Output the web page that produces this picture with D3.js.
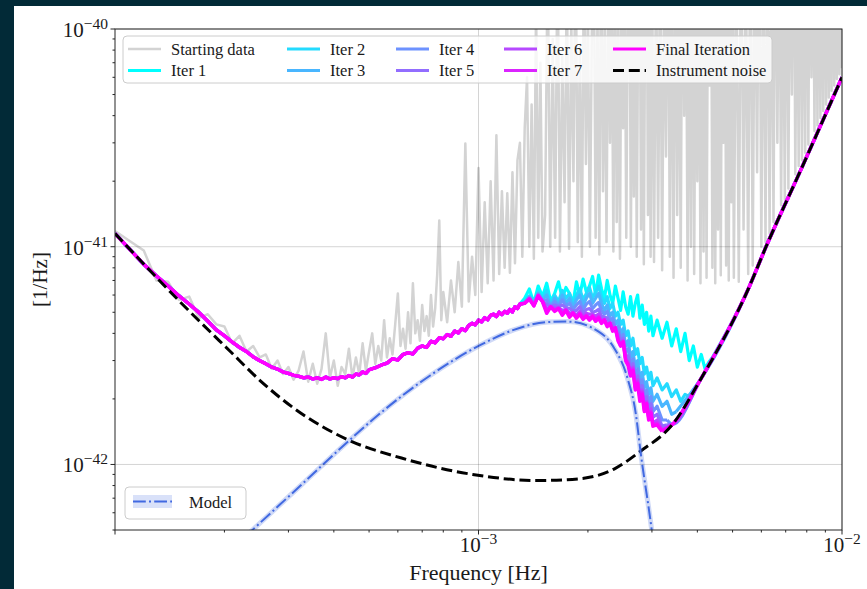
<!DOCTYPE html>
<html>
<head>
<meta charset="utf-8">
<title>PSD iterations</title>
<script src="https://d3js.org/d3.v7.min.js"></script>
<style>
body {
  margin: 0;
  background-color: #022a37;
}
svg {
  display: block;
}
text {
  font-family: "Liberation Serif", "DejaVu Serif", serif;
  fill: #1a1a1a;
}
</style>
</head>
<body>
<svg id="chart" width="867" height="589"></svg>
<script>
// frequencies in mHz, PSD values in units of 1e-42 [1/Hz]

// starting data (grey, noisy periodogram)
const dataFreq = [
  0.10, 0.11, 0.12, 0.13, 0.14, 0.15, 0.16, 0.17, 0.18, 0.19,
  0.20, 0.21, 0.22, 0.23, 0.24, 0.25, 0.26, 0.27, 0.28, 0.29,
  0.30, 0.31, 0.32, 0.33, 0.34, 0.35, 0.36, 0.37, 0.38, 0.39,
  0.40, 0.41, 0.42, 0.43, 0.44, 0.45, 0.46, 0.47, 0.48, 0.49, 0.50,
  0.51, 0.52, 0.53, 0.54, 0.55, 0.56, 0.57, 0.58, 0.59, 0.60,
  0.61, 0.62, 0.63, 0.64, 0.65, 0.66, 0.67, 0.68, 0.69, 0.70,
  0.71, 0.72, 0.73, 0.74, 0.75, 0.76, 0.77, 0.78, 0.79, 0.80,
  0.82, 0.84, 0.86, 0.88, 0.90, 0.92, 0.94, 0.96, 0.98, 1.00,
  1.02, 1.04, 1.06, 1.08, 1.10, 1.12, 1.14, 1.16, 1.18, 1.20,
  1.22, 1.24, 1.26, 1.28, 1.30, 1.32, 1.34, 1.36, 1.38, 1.40,
  1.42, 1.44, 1.46, 1.48, 1.50,
  1.525, 1.550, 1.575, 1.600, 1.625, 1.650, 1.675, 1.700, 1.725, 1.750,
  1.775, 1.800, 1.825, 1.850, 1.875, 1.900, 1.925, 1.950, 1.975, 2.000,
  2.025, 2.050, 2.075, 2.100, 2.125, 2.150, 2.175, 2.200, 2.225, 2.250,
  2.275, 2.300, 2.325, 2.350, 2.375, 2.400, 2.425, 2.450, 2.475, 2.500,
  2.525, 2.550, 2.575, 2.600, 2.625, 2.650, 2.675, 2.700, 2.725, 2.750,
  2.775, 2.800, 2.825, 2.850, 2.875, 2.900, 2.925, 2.950, 2.975, 3.000,
  3.04, 3.08, 3.12, 3.16, 3.20, 3.24, 3.28, 3.32, 3.36, 3.40,
  3.44, 3.48, 3.52, 3.56, 3.60, 3.64, 3.68, 3.72, 3.76, 3.80,
  3.84, 3.88, 3.92, 3.96, 4.00, 4.04, 4.08, 4.12, 4.16, 4.20,
  4.24, 4.28, 4.32, 4.36, 4.40, 4.44, 4.48, 4.52, 4.56, 4.60,
  4.64, 4.68, 4.72, 4.76, 4.80, 4.84, 4.88, 4.92, 4.96, 5.00,
  5.04, 5.12, 5.20, 5.28, 5.36, 5.44, 5.52, 5.60, 5.68, 5.76,
  5.84, 5.92, 6.00, 6.08, 6.16, 6.24, 6.32, 6.40, 6.48, 6.56,
  6.64, 6.72, 6.80, 6.88, 6.96, 7.04, 7.12, 7.20, 7.28, 7.36,
  7.44, 7.52, 7.60, 7.68, 7.76, 7.84, 7.92, 8.00, 8.08, 8.16,
  8.24, 8.32, 8.40, 8.48, 8.56, 8.64, 8.72, 8.80, 8.88, 8.96,
  9.04, 9.12, 9.20, 9.28, 9.36, 9.44, 9.52, 9.60, 9.68, 9.76,
  9.84, 9.92, 10.00
];
const startingData = [
  11.8, 10.6, 9.6, 7.0, 6.9, 5.7, 5.9, 4.7, 4.9, 4.4,
  4.3, 3.6, 3.9, 3.3, 3.5, 3.1, 3.2, 2.75, 3.0, 2.6,
  2.8, 2.45, 2.7, 3.3, 2.4, 2.9, 2.35, 2.75, 4.0, 2.5,
  3.0, 2.3, 2.8, 2.6, 3.4, 2.5, 3.1, 2.6, 3.6, 2.7, 3.3,
  4.0, 2.9, 3.5, 3.0, 4.6, 3.1, 3.8, 3.2, 4.4, 6.1,
  3.5, 4.2, 3.4, 5.0, 3.6, 6.8, 4.0, 4.6, 3.7, 5.4,
  4.1, 4.8, 3.9, 6.0, 4.3, 5.2, 7.5, 13.2, 4.6, 6.2,
  4.5, 7.0, 5.0, 8.5, 5.3, 29.8, 5.6, 9.0, 6.0, 23.0,
  6.2, 16.0, 6.8, 20.0, 7.0, 32.5, 7.5, 18.0, 8.0, 17.6,
  7.6, 22.0, 8.4, 25.0, 30.0, 9.0, 35.0, 60.0, 10.0, 45.0,
  8.8, 130.0, 11.0, 70.0, 9.5,
  14, 220, 10, 90, 11, 260, 9.5, 75, 16, 180,
  9.8, 110, 20, 320, 10.5, 85, 9, 240, 24, 130,
  10, 95, 260, 11, 120, 9.2, 380, 18, 100, 10.5,
  210, 30, 150, 9.5, 300, 13, 105, 8.8, 250, 35,
  180, 11, 125, 330, 10, 160, 17, 230, 9, 140,
  280, 12, 190, 8.3, 160, 380, 14, 210, 9, 260,
  8.5, 240, 11, 310, 7.8, 180, 26, 420, 9, 260,
  7.2, 350, 14, 200, 8, 480, 40, 290, 7, 230,
  10, 380, 7.5, 170, 20, 330, 6.8, 270, 9.5, 450,
  7.2, 210, 55, 360, 8, 300, 6.8, 190, 12, 520,
  7.4, 280, 30, 400, 8.2, 240, 7, 350, 16, 300,
  7.2, 280, 6.9, 390, 12, 220, 7.5, 460, 8.2, 310,
  22, 500, 10, 260, 10.5, 420, 11.5, 300, 13, 550,
  30, 350, 15.5, 280, 16.5, 480, 18.5, 390, 50, 600,
  21.5, 330, 23.5, 520, 25, 400, 27, 700, 29.5, 450,
  60, 380, 34, 650, 36, 500, 39, 420, 42, 800,
  45, 550, 48.5, 480, 52, 900, 55, 600, 59, 700,
  62, 1000, 66
];

// all iterations coincide below 1.3 mHz
const iterFreqLow = [
  0.10, 0.11, 0.12, 0.13, 0.14, 0.15, 0.16, 0.17, 0.18, 0.19,
  0.20, 0.21, 0.22, 0.23, 0.24, 0.25, 0.26, 0.27, 0.28, 0.29,
  0.30, 0.31, 0.32, 0.33, 0.34, 0.35, 0.36, 0.37, 0.38, 0.39,
  0.40, 0.41, 0.42, 0.43, 0.44, 0.45, 0.46, 0.47, 0.48, 0.49, 0.50,
  0.52, 0.54, 0.56, 0.58, 0.60, 0.62, 0.64, 0.66, 0.68, 0.70,
  0.72, 0.74, 0.76, 0.78, 0.80, 0.82, 0.84, 0.86, 0.88, 0.90,
  0.92, 0.94, 0.96, 0.98, 1.00, 1.02, 1.04, 1.06, 1.08, 1.10,
  1.12, 1.14, 1.16, 1.18, 1.20, 1.22, 1.24, 1.26, 1.28, 1.30
];
const iterLow = [
  11.5, 9.7, 8.3, 7.35, 6.6, 5.95, 5.45, 5.0, 4.55, 4.15,
  3.9, 3.65, 3.45, 3.3, 3.12, 3.0, 2.9, 2.8, 2.74, 2.66,
  2.62, 2.57, 2.54, 2.5, 2.52, 2.47, 2.5, 2.46, 2.52, 2.47,
  2.5, 2.48, 2.53, 2.5, 2.56, 2.52, 2.6, 2.58, 2.66, 2.62, 2.72,
  2.78, 2.86, 2.92, 3.06, 3.02, 3.2, 3.26, 3.22, 3.42, 3.5,
  3.45, 3.68, 3.62, 3.82, 3.78, 3.95, 3.88, 4.1, 4.02, 4.2,
  4.12, 4.35, 4.45, 4.38, 4.6, 4.52, 4.72, 4.62, 4.85, 4.9,
  4.78, 5.0, 4.88, 5.05, 4.95, 5.15, 5.02, 5.3, 5.2, 5.45
];

// where the iterations separate
const tailFreq = [
  1.34, 1.38, 1.42, 1.46, 1.50, 1.54, 1.58, 1.62, 1.66, 1.70,
  1.74, 1.78, 1.82, 1.86, 1.90, 1.94, 1.98, 2.02, 2.06, 2.10,
  2.14, 2.18, 2.22, 2.26, 2.30, 2.34, 2.38, 2.42, 2.46, 2.50,
  2.54, 2.58, 2.62, 2.66, 2.70, 2.74, 2.78, 2.82, 2.86, 2.90,
  2.94, 2.98, 3.02,
  3.10, 3.20, 3.30, 3.40, 3.50, 3.60, 3.70, 3.80, 3.90, 4.00,
  4.10, 4.20, 4.30, 4.40, 4.50
];
const iter1Tail = [
  5.8, 6.4, 5.5, 6.6, 5.9, 6.8, 5.6, 6.1, 6.9, 5.8,
  6.5, 6.1, 5.5, 6.9, 6.0, 7.1, 6.2, 6.6, 7.3, 6.0,
  7.4, 6.4, 5.8, 7.0, 6.0, 5.5, 6.6, 5.8, 5.1, 6.2,
  5.3, 4.9, 5.9, 4.8, 5.5, 6.0, 4.7, 5.4, 4.4, 5.0,
  4.1, 4.8, 3.9,
  4.6, 3.8, 4.5, 3.5, 4.2, 3.3, 4.0, 3.0, 3.5, 2.8,
  3.2, 2.75, 2.95, 3.1
];
const iter2Tail = [
  5.6, 5.95, 5.6, 6.2, 5.8, 6.3, 5.4, 6.0, 5.6, 6.3,
  5.8, 6.1, 5.5, 6.0, 6.4, 5.7, 6.1, 6.5, 5.8, 6.2,
  6.6, 5.9, 5.5, 5.9, 5.2, 5.5, 4.8, 5.0, 4.4, 4.6,
  3.9, 4.1, 3.5, 3.8, 3.2, 3.4, 2.9, 3.1, 2.6, 2.8,
  2.45, 2.65, 2.3,
  2.5, 2.2, 2.35, 2.05, 2.2, 1.95, 2.1, 2.05
];
const iter3Tail = [
  5.55, 5.9, 5.5, 6.1, 5.7, 6.0, 5.3, 5.8, 5.4, 6.0,
  5.5, 5.8, 5.3, 5.7, 6.0, 5.4, 5.8, 6.1, 5.5, 5.8,
  6.1, 5.5, 5.1, 5.4, 4.8, 5.0, 4.4, 4.6, 4.0, 4.2,
  3.5, 3.7, 3.1, 3.3, 2.8, 3.0, 2.5, 2.65, 2.25, 2.4,
  2.1, 2.25, 1.95,
  2.1, 1.85, 1.95, 1.7, 1.75
];
const iter4Tail = [
  5.5, 5.85, 5.45, 6.05, 5.65, 5.7, 5.3, 5.6, 5.35, 5.7,
  5.35, 5.5, 5.15, 5.4, 5.6, 5.15, 5.45, 5.6, 5.2, 5.4,
  5.55, 5.1, 4.9, 5.05, 4.6, 4.7, 4.2, 4.3, 3.8, 3.95,
  3.3, 3.4, 2.9, 3.05, 2.6, 2.75, 2.3, 2.45, 2.05, 2.2,
  1.9, 2.05, 1.75,
  1.85, 1.6, 1.6
];
const iter5Tail = [
  5.5, 5.8, 5.4, 6.0, 5.6, 5.45, 5.3, 5.4, 5.3, 5.4,
  5.25, 5.2, 5.05, 5.1, 5.3, 4.95, 5.15, 5.2, 5.0, 5.05,
  5.15, 4.8, 4.75, 4.7, 4.5, 4.45, 4.1, 4.05, 3.65, 3.8,
  3.15, 3.15, 2.75, 2.9, 2.4, 2.55, 2.15, 2.3, 1.9, 2.05,
  1.75, 1.9, 1.65,
  1.7, 1.5, 1.52
];
const iter6Tail = [
  5.5, 5.78, 5.38, 5.98, 5.6, 5.2, 5.3, 5.2, 5.25, 5.1,
  5.15, 4.95, 5.0, 4.85, 5.05, 4.8, 4.95, 4.9, 4.9, 4.8,
  4.9, 4.6, 4.65, 4.45, 4.45, 4.25, 4.15, 3.85, 3.55, 3.7,
  3.05, 2.95, 2.6, 2.8, 2.3, 2.45, 2.05, 2.2, 1.8, 1.95,
  1.65, 1.8, 1.55,
  1.6, 1.45
];
const iter7Tail = [
  5.5, 5.76, 5.36, 5.96, 5.6, 5.05, 5.3, 5.1, 5.22, 4.95,
  5.12, 4.85, 4.97, 4.75, 4.95, 4.7, 4.85, 4.7, 4.82, 4.65,
  4.78, 4.5, 4.62, 4.35, 4.45, 4.15, 4.2, 3.75, 3.5, 3.68,
  3.02, 2.9, 2.57, 2.75, 2.25, 2.4, 2.0, 2.15, 1.77, 1.92,
  1.62, 1.75, 1.52,
  1.55, 1.43
];
const finalTail = [
  5.5, 5.75, 5.35, 5.95, 5.6, 4.95, 5.3, 5.05, 5.2, 4.85,
  5.1, 4.75, 4.95, 4.7, 4.9, 4.65, 4.8, 4.6, 4.78, 4.55,
  4.7, 4.45, 4.6, 4.3, 4.45, 4.1, 4.25, 3.7, 3.5, 3.65,
  3.0, 2.85, 2.55, 2.7, 2.2, 2.35, 1.95, 2.1, 1.75, 1.9,
  1.6, 1.72, 1.5,
  1.52, 1.42
];

// instrument noise (black dashed)
const noiseFreq = [0.100, 0.153, 0.207, 0.252, 0.311, 0.441, 0.614, 0.963, 1.445,
  1.90, 2.38, 2.79, 3.42, 4.09, 5.51, 6.18, 7.71, 10.0];
const noiseVals = [11.5, 5.46, 3.32, 2.41, 1.81, 1.29, 1.07, 0.90, 0.844,
  0.86, 0.96, 1.15, 1.53, 2.47, 6.34, 10.0, 22.6, 60.0];

// signal model (blue dash-dot)
const modelFreq = [0.207, 0.236, 0.324, 0.441, 0.537, 0.738, 1.013, 1.25, 1.55,
  1.76, 2.13, 2.36, 2.57, 2.71, 2.79, 3.00, 3.07];
const modelVals = [0.40, 0.491, 0.80, 1.29, 1.72, 2.57, 3.54, 4.15, 4.51,
  4.53, 4.10, 3.43, 2.49, 1.70, 1.15, 0.491, 0.357];

const iterNames = ['Iter 1', 'Iter 2', 'Iter 3', 'Iter 4', 'Iter 5', 'Iter 6', 'Iter 7'];
const iterColors = ['#00ffff', '#24dbff', '#49b6ff', '#6d92ff', '#926dff', '#b649ff', '#db24ff'];
const iterTails = [iter1Tail, iter2Tail, iter3Tail, iter4Tail, iter5Tail, iter6Tail, iter7Tail];

const xTickExp = [-3, -2];
const yTickExp = [-42, -41, -40];

const MHZ = 1e-3;
const UNIT = 1e-42;

const W = 867, H = 589;
const margin = { top: 29, right: 25, bottom: 59, left: 115 };
const svg = d3.select('#chart');

svg.append('rect')
  .attr('x', 14).attr('y', 6)
  .attr('width', W - 14).attr('height', H - 6)
  .attr('fill', 'white');

const x = d3.scaleLog().domain([1e-4, 1e-2]).range([margin.left, W - margin.right]);
const y = d3.scaleLog().domain([5e-43, 1e-40]).range([H - margin.bottom, margin.top]);

svg.append('clipPath').attr('id', 'plotclip')
  .append('rect')
  .attr('x', margin.left).attr('y', margin.top)
  .attr('width', W - margin.left - margin.right)
  .attr('height', H - margin.top - margin.bottom);

const plot = svg.append('g').attr('clip-path', 'url(#plotclip)');

const pts = (fs, vs) => vs.map((v, i) => [fs[i], v]);

const line = d3.line()
  .x(d => x(d[0] * MHZ))
  .y(d => y(d[1] * UNIT));
const smooth = d3.line()
  .x(d => x(d[0] * MHZ))
  .y(d => y(d[1] * UNIT))
  .curve(d3.curveMonotoneX);

// an iteration: measured part (low + own tail), then it sits on the instrument noise
function drawIter(tail, color, width) {
  const measured = pts(iterFreqLow, iterLow).concat(pts(tailFreq, tail));
  const last = measured[measured.length - 1];
  const onNoise = [last].concat(pts(noiseFreq, noiseVals).filter(d => d[0] > last[0]));
  plot.append('path')
    .datum(measured)
    .attr('d', line)
    .attr('fill', 'none')
    .attr('stroke', color)
    .attr('stroke-width', width)
    .attr('stroke-linejoin', 'round');
  plot.append('path')
    .datum(onNoise)
    .attr('d', smooth)
    .attr('fill', 'none')
    .attr('stroke', color)
    .attr('stroke-width', width);
}

plot.append('path')
  .datum(pts(dataFreq, startingData))
  .attr('d', line)
  .attr('fill', 'none')
  .attr('stroke', '#d3d3d3')
  .attr('stroke-width', 2.5)
  .attr('stroke-linejoin', 'round');

iterTails.forEach((tail, i) => drawIter(tail, iterColors[i], 3.2));
drawIter(finalTail, '#ff00ff', 3.6);

plot.append('path')
  .datum(pts(noiseFreq, noiseVals))
  .attr('d', smooth)
  .attr('fill', 'none')
  .attr('stroke', 'black')
  .attr('stroke-width', 3)
  .attr('stroke-dasharray', '11,4.8');

// model: light band under the dash-dot line
plot.append('path')
  .datum(pts(modelFreq, modelVals))
  .attr('d', smooth)
  .attr('fill', 'none')
  .attr('stroke', 'rgba(65,105,225,0.25)')
  .attr('stroke-width', 5);
plot.append('path')
  .datum(pts(modelFreq, modelVals))
  .attr('d', smooth)
  .attr('fill', 'none')
  .attr('stroke', '#4169e1')
  .attr('stroke-width', 2)
  .attr('stroke-dasharray', '12.8,3.2,2,3.2');

// grid
const grid = svg.append('g').attr('stroke', 'rgba(0,0,0,0.17)').attr('stroke-width', 1);
yTickExp.forEach(e => {
  grid.append('line')
    .attr('x1', margin.left).attr('x2', W - margin.right)
    .attr('y1', y(Math.pow(10, e))).attr('y2', y(Math.pow(10, e)));
});
xTickExp.forEach(e => {
  grid.append('line')
    .attr('x1', x(Math.pow(10, e))).attr('x2', x(Math.pow(10, e)))
    .attr('y1', margin.top).attr('y2', H - margin.bottom);
});

// ticks
const isMajor = v => Math.abs(Math.log10(v) - Math.round(Math.log10(v))) < 1e-6;
const ticks = svg.append('g').attr('stroke', '#262626').attr('stroke-width', 1);
x.ticks().forEach(v => {
  const len = isMajor(v) ? 4.5 : 2.5;
  ticks.append('line')
    .attr('x1', x(v)).attr('x2', x(v))
    .attr('y1', H - margin.bottom).attr('y2', H - margin.bottom + len);
});
y.ticks().forEach(v => {
  const len = isMajor(v) ? 4.5 : 2.5;
  ticks.append('line')
    .attr('x1', margin.left - len).attr('x2', margin.left)
    .attr('y1', y(v)).attr('y2', y(v));
});

svg.append('rect')
  .attr('x', margin.left).attr('y', margin.top)
  .attr('width', W - margin.left - margin.right)
  .attr('height', H - margin.top - margin.bottom)
  .attr('fill', 'none')
  .attr('stroke', '#262626')
  .attr('stroke-width', 1);

// tick labels 10^n
function powerLabel(sel, e) {
  sel.append('tspan').attr('font-size', 21).text('10');
  sel.append('tspan').attr('font-size', 15.5).attr('dy', -8).text('\u2212' + Math.abs(e));
}
yTickExp.forEach(e => {
  svg.append('text')
    .attr('x', 108)
    .attr('y', y(Math.pow(10, e)) + 8)
    .attr('text-anchor', 'end')
    .call(powerLabel, e);
});
xTickExp.forEach(e => {
  svg.append('text')
    .attr('x', x(Math.pow(10, e)))
    .attr('y', 552)
    .attr('text-anchor', 'middle')
    .call(powerLabel, e);
});

svg.append('text')
  .attr('x', (margin.left + W - margin.right) / 2)
  .attr('y', 580)
  .attr('text-anchor', 'middle')
  .attr('font-size', 22)
  .text('Frequency [Hz]');

svg.append('text')
  .attr('transform', `translate(47,${(margin.top + H - margin.bottom) / 2}) rotate(-90)`)
  .attr('text-anchor', 'middle')
  .attr('font-size', 21)
  .text('[1/Hz]');

// upper legend, 5 columns filled column by column
const legendItems = [
  { label: 'Starting data', color: '#d3d3d3', width: 2.5 },
  ...iterNames.map((n, i) => ({ label: n, color: iterColors[i], width: 3 })),
  { label: 'Final Iteration', color: '#ff00ff', width: 3 },
  { label: 'Instrument noise', color: 'black', width: 3, dash: '11,4.8' }
];
const colX = [128, 287, 396, 504, 613];
const rowY = [49, 70.5];

svg.append('rect')
  .attr('x', 123).attr('y', 36)
  .attr('width', 649).attr('height', 47)
  .attr('rx', 4)
  .attr('fill', 'rgba(255,255,255,0.8)')
  .attr('stroke', '#cccccc');

legendItems.forEach((d, i) => {
  const cx = colX[Math.floor(i / 2)];
  const cy = rowY[i % 2];
  svg.append('line')
    .attr('x1', cx).attr('x2', cx + 33)
    .attr('y1', cy).attr('y2', cy)
    .attr('stroke', d.color)
    .attr('stroke-width', d.width)
    .attr('stroke-dasharray', d.dash || null);
  svg.append('text')
    .attr('x', cx + 43)
    .attr('y', cy + 5.5)
    .attr('font-size', 16.5)
    .text(d.label);
});

// model legend
svg.append('rect')
  .attr('x', 125).attr('y', 487)
  .attr('width', 121).attr('height', 32)
  .attr('rx', 4)
  .attr('fill', 'rgba(255,255,255,0.8)')
  .attr('stroke', '#cccccc');
svg.append('rect')
  .attr('x', 133).attr('y', 495)
  .attr('width', 39).attr('height', 13)
  .attr('fill', 'rgba(65,105,225,0.2)');
svg.append('line')
  .attr('x1', 133).attr('x2', 172)
  .attr('y1', 501.5).attr('y2', 501.5)
  .attr('stroke', '#4169e1')
  .attr('stroke-width', 2)
  .attr('stroke-dasharray', '12.8,3.2,2,3.2');
svg.append('text')
  .attr('x', 189).attr('y', 507.5)
  .attr('font-size', 16.5)
  .text('Model');
</script>
</body>
</html>
